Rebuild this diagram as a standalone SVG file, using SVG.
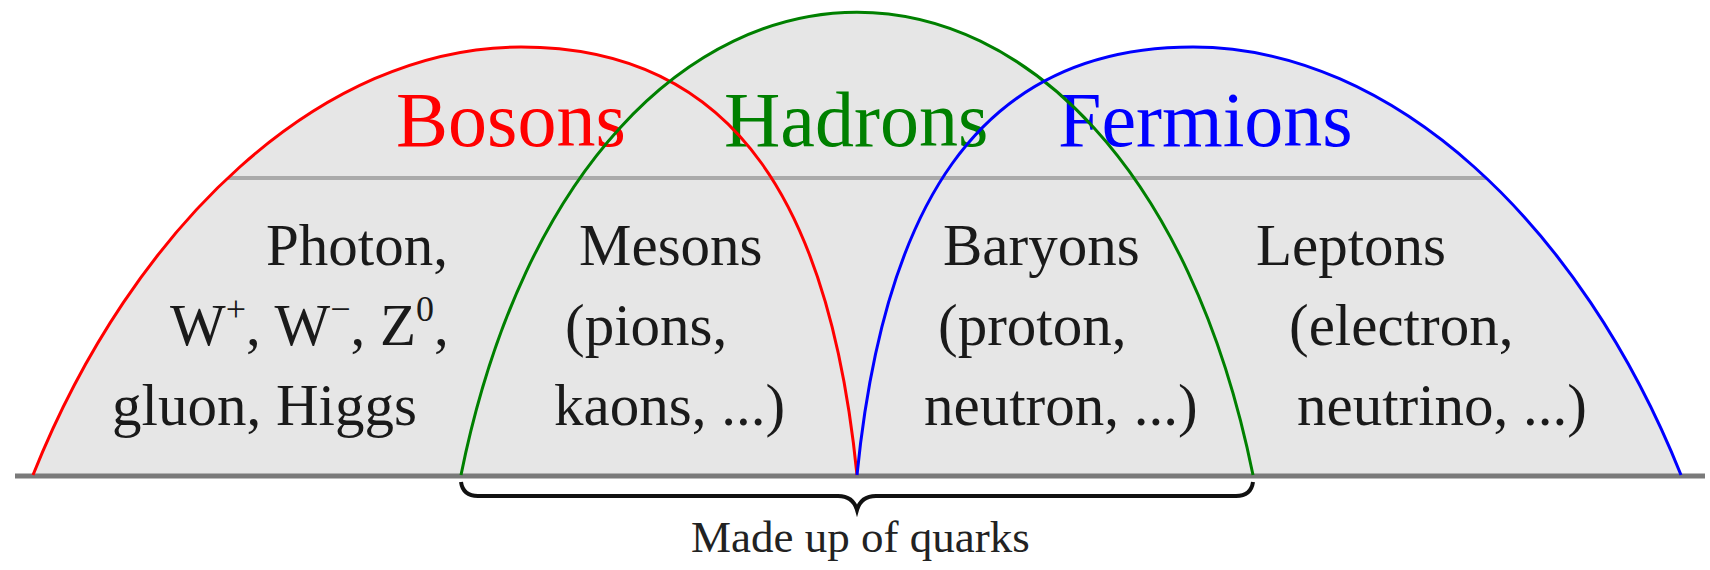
<svg xmlns="http://www.w3.org/2000/svg" width="1710" height="570" viewBox="0 0 1710 570">
<style>
.fill{fill:#e6e6e6;stroke:none}
.arc{fill:none;stroke-width:3}
.lbl{font-family:"Liberation Serif","Times New Roman",serif;font-size:78px}
.txt{font-family:"Liberation Serif","Times New Roman",serif;font-size:59px;fill:#1a1a1a}
.sup{font-size:36px}
.note{font-family:"Liberation Serif","Times New Roman",serif;font-size:45px;fill:#222}
</style>
<rect width="1710" height="570" fill="#ffffff"/>
<g id="background">
<path class="fill" d="M 33 475 C 133 225 321 47 521 47 C 741 47 831 215 857 475 Z"/>
<path class="fill" d="M 461 475 C 586 -142 1128 -142 1253 475 Z"/>
<path class="fill" d="M 857 475 C 883 215 973 47 1193 47 C 1393 47 1581 225 1681 475 Z"/>
<line x1="228" y1="178" x2="1486" y2="178" stroke="#aaaaaa" stroke-width="4"/>
<line x1="15" y1="476" x2="1705" y2="476" stroke="#7a7a7a" stroke-width="5"/>
</g>
<g id="bosons">
<text class="lbl" x="396" y="146" fill="#ff0000">Bosons</text>
<text class="txt" x="266" y="265">Photon,</text>
<text class="txt" x="170" y="345">W<tspan class="sup" dy="-24">+</tspan><tspan dy="24">, W</tspan><tspan class="sup" dy="-24">−</tspan><tspan dy="24">, Z</tspan><tspan class="sup" dy="-24">0</tspan><tspan dy="24">,</tspan></text>
<text class="txt" x="112" y="425">gluon, Higgs</text>
</g>
<g id="hadrons">
<text class="lbl" x="724" y="146" fill="#008000">Hadrons</text>
</g>
<g id="fermions">
<text class="lbl" x="1058" y="146" fill="#0000ff">Fermions</text>
</g>
<g id="mesons">
<text class="txt" x="579" y="265">Mesons</text>
<text class="txt" x="565" y="345">(pions,</text>
<text class="txt" x="554" y="425">kaons, ...)</text>
</g>
<g id="baryons">
<text class="txt" x="943" y="265">Baryons</text>
<text class="txt" x="938" y="345">(proton,</text>
<text class="txt" x="924" y="425">neutron, ...)</text>
</g>
<g id="leptons">
<text class="txt" x="1256" y="265">Leptons</text>
<text class="txt" x="1289" y="345">(electron,</text>
<text class="txt" x="1297" y="425">neutrino, ...)</text>
</g>
<g id="connectors">
<path class="arc" stroke="#ff0000" d="M 33 475 C 133 225 321 47 521 47 C 741 47 831 215 857 475"/>
<path class="arc" stroke="#008000" d="M 461 475 C 586 -142 1128 -142 1253 475"/>
<path class="arc" stroke="#0000ff" d="M 857 475 C 883 215 973 47 1193 47 C 1393 47 1581 225 1681 475"/>
<path fill="none" stroke="#111" stroke-width="4" d="M 461 482 Q 463 496 478 496 L 838 496 Q 853 496 857 510 Q 861 496 876 496 L 1236 496 Q 1251 496 1253 482"/>
</g>
<g id="quarks-note">
<text class="note" x="691" y="552">Made up of quarks</text>
</g>
</svg>
